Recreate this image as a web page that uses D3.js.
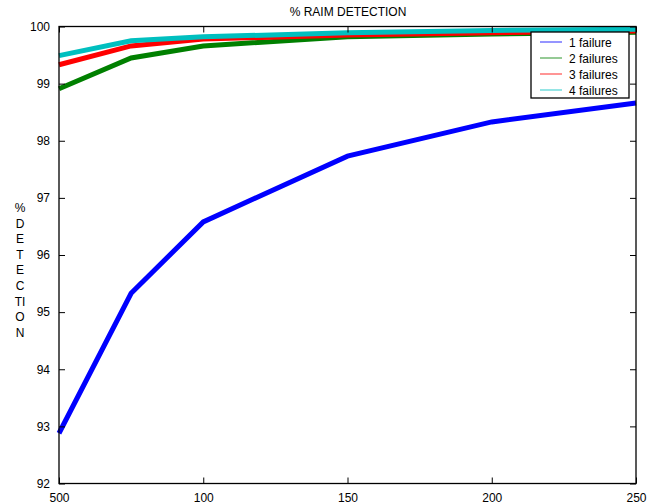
<!DOCTYPE html>
<html>
<head>
<meta charset="utf-8">
<script src="https://cdn.jsdelivr.net/npm/d3@7"></script>
<style>
body { margin: 0; background: #fff; }
text { font-family: "Liberation Sans", Arial, sans-serif; fill: #000; }
</style>
</head>
<body>
<svg id="chart" width="658" height="504"></svg>
<script>
const xValues = [50, 75, 100, 150, 200, 250];

const series = [
    {name: '1 failure', color: '#0000ff', values: [92.88, 95.33, 96.58, 97.73, 98.33, 98.66]},
    {name: '2 failures', color: '#008000', values: [98.91, 99.45, 99.66, 99.82, 99.87, 99.90]},
    {name: '3 failures', color: '#ff0000', values: [99.33, 99.66, 99.78, 99.85, 99.89, 99.92]},
    {name: '4 failures', color: '#00bfbf', values: [99.49, 99.75, 99.82, 99.89, 99.93, 99.95]},
];

const xTicks = [50, 100, 150, 200, 250];
const xTickLabels = ['500', '100', '150', '200', '250'];
const yTicks = [92, 93, 94, 95, 96, 97, 98, 99, 100];
const yLabelLetters = ['%', 'D', 'E', 'T', 'E', 'C', 'TI', 'O', 'N'];

const svg = d3.select('#chart');
const plotL = 59, plotR = 636, plotT = 26.5, plotB = 483.5;

const x = d3.scaleLinear().domain([50, 250]).range([plotL, plotR]);
const y = d3.scaleLinear().domain([92, 100]).range([plotB, plotT]);

// lines first, frame drawn over them
const line = d3.line()
    .x((d, i) => x(xValues[i]))
    .y(d => y(d));

svg.selectAll('.series')
    .data(series)
    .enter()
    .append('path')
    .attr('class', 'series')
    .attr('d', d => line(d.values))
    .attr('fill', 'none')
    .attr('stroke', d => d.color)
    .attr('stroke-width', 5)
    .attr('stroke-linejoin', 'miter');

// axes, ticks pointing inwards like matlab
const bottomAxis = d3.axisBottom(x).tickValues(xTicks)
    .tickFormat((d, i) => xTickLabels[i]).tickSize(-6).tickPadding(10);
const topAxis = d3.axisTop(x).tickValues(xTicks).tickFormat('').tickSize(-6);
const leftAxis = d3.axisLeft(y).tickValues(yTicks).tickSize(-6).tickPadding(9);
const rightAxis = d3.axisRight(y).tickValues(yTicks).tickFormat('').tickSize(-6);

function styleAxis(g) {
    g.select('.domain').remove();
    g.selectAll('line').attr('stroke', '#000');
    g.selectAll('text').attr('font-size', 12).attr('fill', '#000')
        .attr('font-family', '"Liberation Sans", Arial, sans-serif');
}

svg.append('g').attr('transform', `translate(0,${plotB})`).call(bottomAxis).call(styleAxis);
svg.append('g').attr('transform', `translate(0,${plotT})`).call(topAxis).call(styleAxis);
svg.append('g').attr('transform', `translate(${plotL},0)`).call(leftAxis).call(styleAxis);
svg.append('g').attr('transform', `translate(${plotR},0)`).call(rightAxis).call(styleAxis);

svg.append('rect')
    .attr('x', plotL).attr('y', plotT)
    .attr('width', plotR - plotL).attr('height', plotB - plotT)
    .attr('fill', 'none').attr('stroke', '#000').attr('stroke-width', 1.3);

// title
svg.append('text')
    .attr('x', 348).attr('y', 16)
    .attr('text-anchor', 'middle')
    .attr('font-size', 12)
    .text('% RAIM DETECTION');

// stacked y label
svg.selectAll('.ylab')
    .data(yLabelLetters)
    .enter()
    .append('text')
    .attr('class', 'ylab')
    .attr('x', 20)
    .attr('y', (d, i) => 212 + i * 15.6)
    .attr('text-anchor', 'middle')
    .attr('font-size', 12)
    .text(d => d);

// legend
const legend = svg.append('g').attr('transform', 'translate(531,32)');
legend.append('rect')
    .attr('width', 98).attr('height', 66)
    .attr('fill', '#fff').attr('stroke', '#000').attr('stroke-width', 1.3);

const entry = legend.selectAll('.entry')
    .data(series)
    .enter()
    .append('g')
    .attr('class', 'entry')
    .attr('transform', (d, i) => `translate(0,${10 + i * 16})`);

entry.append('line')
    .attr('x1', 9).attr('x2', 31)
    .attr('stroke', d => d.color)
    .attr('stroke-opacity', 0.7)
    .attr('stroke-width', 1.2);

entry.append('text')
    .attr('x', 38).attr('y', 4.5)
    .attr('font-size', 12)
    .text(d => d.name);
</script>
</body>
</html>
